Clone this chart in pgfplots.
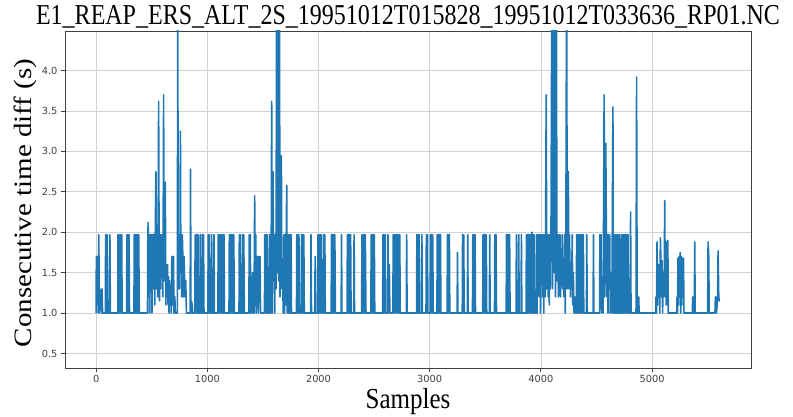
\documentclass[border=0pt]{standalone}
\usepackage{pgfplots}
\pgfplotsset{compat=1.18}
\usepackage{fontspec}
\usepackage{graphicx}
\setmainfont{Liberation Serif}
\newfontfamily\tickfont{DejaVu Sans}
\definecolor{mplblue}{HTML}{1F77B4}
\begin{document}
\begin{tikzpicture}
\begin{axis}[
 at={(0,0)}, anchor=south west,
 scale only axis, width=686pt, height=337pt,
 xmin=-280, xmax=5890, ymin=0.32, ymax=4.49,
 xtick={0,1000,2000,3000,4000,5000}, ytick={0.5,1,1.5,2,2.5,3,3.5,4},
 grid=major, grid style={gray!35, line width=0.7pt},
 axis line style={black!75, line width=0.9pt},
 tick align=outside, major tick length=4pt, tick style={black!75, line width=0.8pt},
 xtick pos=bottom, ytick pos=left,
 /pgf/number format/assume math mode=true,
 ticklabel style={font=\tickfont\fontsize{9.8}{11}\selectfont, text=black!75},
 xticklabel style={/pgf/number format/set thousands separator={}},
 yticklabel style={/pgf/number format/.cd, fixed, fixed zerofill, precision=1},
]
\addplot[mplblue, line width=1.6pt, line join=round] coordinates {
(0,1)(2,1.7)(8,1.45)(13,1.7)(18,1)(24,1.97)(29,1)(34,1.3)(39,1.05)(44,1.25)(49,1)(53,1.3)(58,1)
(84,1)(85,1.97)(89,1)(99,1)(100,1.97)(104,1)(120,1)(124,1.97)(128,1)
(195,1)(197,1.97)(203,1)(208,1.97)(214,1)(219,1.97)(225,1)(230,1.97)(234,1)
(274,1)(277,1.97)(282,1)(287,1.97)(292,1)(296,1.97)(300,1)
(340,1)(343,1.97)(348,1)(353,1.97)(358,1)(363,1.97)(368,1)(373,1.97)(378,1)(383,1.97)(388,1)
(462,1)(465,1.97)(468,2.12)(472,1.2)(477,1.97)(482,1)(487,1.97)(492,1.5)(497,1.97)(502,1)(507,1.97)(512,1.3)(517,1.97)(522,1.97)(527,1.1)(532,1.97)(538,2.75)(543,1.3)(548,1.97)(553,1.2)(558,1.97)(562,3.62)(566,1.97)(570,1.15)(575,1.97)(580,1.3)(584,1.97)(589,1.5)(594,1.97)(599,1.2)(603,1.97)(607,3.70)(611,1.4)(616,1.97)(622,2.62)(627,1.1)(632,1.6)(637,1.2)(642,1.6)(647,1.1)(651,1.45)(656,1)(661,1.4)(666,1.1)(671,1.2)(676,1)(681,1.7)(686,1.1)(691,1.7)(696,1.7)(700,1)
(704,1)(708,1.2)(712,1)(731,1)(734,5.5)(738,1.3)(744,1.97)(750,1.3)(755,1.97)(758,3.25)(762,1.5)(766,1.97)(770,1.2)(775,1.97)(780,1.7)(785,1.2)(790,1.7)(796,1.4)(801,1.2)(806,1.4)(812,1)
(846,1)(849,2.78)(853,1)(861,1.14)(866,1)(887,1)(891,1.97)(895,1)(899,1.75)(904,1.97)(909,1)(914,1)(918,1.97)(922,1)(935,1)(939,1.97)(943,1)(955,1)(958,1.97)(963,1)(966,1.97)(970,1)
(1005,1)(1008,1.97)(1013,1)(1018,1.97)(1023,1)(1036,1)(1039,1.97)(1044,1)(1056,1)(1060,1.97)(1064,1)
(1095,1)(1098,1.97)(1103,1)(1108,1.97)(1113,1)(1117,1.97)(1122,1)(1128,1)(1131,1.97)(1136,1)(1141,1.97)(1146,1)(1150,1.97)(1154,1)
(1195,1)(1198,1.97)(1203,1)(1208,1.97)(1213,1)(1218,1.97)(1223,1)(1228,1.97)(1233,1)(1238,1.97)(1243,1)
(1285,1)(1288,1.97)(1293,1)(1297,1.97)(1301,1)(1315,1)(1318,1.97)(1323,1)(1328,1.97)(1333,1)
(1374,1)(1377,1.97)(1382,1)(1386,1.97)(1391,1)(1396,1.3)(1401,1)(1404,1.35)(1408,1.5)(1412,1)(1420,1)(1426,2.45)(1430,1.1)(1436,1.97)(1440,1)(1444,1.7)(1449,1.1)(1454,1.7)(1459,1)(1464,1.7)(1469,1.2)(1474,1.7)(1479,1)
(1514,1)(1517,1.97)(1522,1)(1527,1.97)(1532,1)(1537,1.97)(1541,1)(1555,1)(1558,1.97)(1562,1)(1568,1.97)(1573,1)(1579,3.62)(1584,1)(1591,2.75)(1596,1.4)(1601,1.97)(1606,1)(1612,1.97)(1618,1.3)(1624,5.5)(1630,1.5)(1636,5.5)(1642,1.4)(1648,5.5)(1654,1.2)(1660,1.97)(1666,2.95)(1671,1.3)(1678,1.4)(1683,1)(1690,1.97)(1695,1)(1700,1.97)(1705,1.1)(1714,2.58)(1719,1)(1724,1.97)(1728,1)(1734,1.97)(1739,1)(1744,1.97)(1749,1)(1753,1.97)(1757,1)
(1802,1)(1805,1.97)(1810,1)(1815,1.97)(1820,1)(1824,1.97)(1828,1)(1845,1)(1848,1.97)(1853,1)(1858,1.97)(1863,1)(1868,1.97)(1872,1)
(1930,1)(1933,1.97)(1937,1)(1966,1)(1970,1.7)(1974,1)
(1992,1)(1995,1.97)(2000,1)(2005,1.97)(2010,1)(2015,1.97)(2020,1)(2025,1.97)(2030,1)(2037,1.2)(2042,1)(2047,1.97)(2052,1)(2057,1.97)(2061,1)
(2114,1)(2117,1.97)(2122,1)(2127,1.97)(2132,1)(2137,1.97)(2142,1)(2147,1.97)(2152,1)
(2204,1)(2207,1.97)(2211,1)
(2257,1)(2260,1.97)(2265,1)(2270,1.97)(2275,1)(2280,1.97)(2285,1)(2289,1.97)(2293,1)
(2317,1)(2320,1.97)(2324,1)
(2388,1)(2391,1.97)(2396,1)(2401,1.97)(2406,1)(2411,1.97)(2416,1)(2421,1.97)(2427,1)
(2471,1)(2474,1.97)(2479,1)(2484,1.97)(2489,1)(2494,1.97)(2499,1)(2502,1.97)(2506,1)
(2577,1)(2580,1.97)(2585,1)(2590,1.97)(2595,1)(2600,1.97)(2604,1)
(2622,1)(2625,1.97)(2630,1)(2637,1.6)(2642,1)
(2669,1)(2672,1.97)(2677,1)(2682,1.97)(2687,1)(2692,1.97)(2697,1)(2702,1.97)(2707,1)(2712,1.97)(2717,1)(2722,1.97)(2727,1)(2731,1.97)(2735,1)
(2790,1)(2793,1.97)(2797,1)
(2882,1)(2885,1.97)(2890,1)(2895,1.97)(2900,1)(2905,1.97)(2910,1)
(2927,1)(2930,1.97)(2934,1)
(2967,1)(2970,1.97)(2975,1)(2980,1.97)(2984,1)
(3004,1)(3007,1.97)(3012,1)(3017,1.97)(3022,1)(3027,1.97)(3032,1)
(3065,1)(3068,1.97)(3073,1)(3078,1.97)(3083,1)(3088,1.97)(3093,1)(3097,1.97)(3101,1)
(3157,1)(3160,1.97)(3165,1)(3170,1.97)(3175,1)(3177,1.97)(3181,1)
(3247,1)(3250,1.75)(3254,1)
(3293,1)(3296,1.97)(3301,1)(3306,1.97)(3311,1)
(3339,1)(3342,1.97)(3346,1)
(3385,1)(3388,1.97)(3393,1)(3398,1.97)(3403,1)(3408,1.97)(3412,1)
(3477,1)(3480,1.97)(3485,1)(3490,1.97)(3495,1)(3500,1.97)(3505,1)(3509,1.97)(3513,1)
(3537,1)(3540,1.97)(3544,1)
(3583,1)(3586,1.97)(3591,1)(3596,1.97)(3601,1)
(3688,1)(3691,1.97)(3696,1)(3701,1.97)(3706,1)(3711,1.97)(3715,1)(3719,1.97)(3723,1)
(3777,1)(3780,1.97)(3784,1)(3798,1)(3801,1.97)(3805,1)(3822,1)(3825,1.97)(3829,1)
(3867,1)(3870,1.97)(3875,1)(3880,1.97)(3885,1)(3890,1.97)(3895,1)(3900,1.97)(3905,1)(3910,1.97)(3915,1)(3920,2.0)(3925,1)(3930,1.97)(3935,1)(3939,1.97)(3943,1)
(3958,1)(3961,1.97)(3966,1)(3971,1.97)(3976,1.6)(3981,1.97)(3986,1.2)(3991,1.97)(3996,1)(4001,1.97)(4006,1.5)(4011,1.97)(4016,1.2)(4021,1.97)(4026,1)(4030,1.5)(4035,1.97)(4040,1.2)(4048,3.70)(4053,1.3)(4058,1.97)(4066,1.2)(4071,1.97)(4076,1.1)(4081,1.97)(4086,1.3)(4091,1.97)(4100,5.5)(4106,1.3)(4113,5.5)(4119,1.5)(4126,5.5)(4132,1.2)(4139,5.5)(4145,1.4)(4152,1.97)(4158,1.2)(4166,1.97)(4172,1.97)(4177,1.2)(4182,1.66)(4187,1.4)(4192,1.97)(4197,1.3)(4203,1.4)(4208,1.2)(4214,1.97)(4219,1)(4225,1.97)(4232,5.5)(4237,1.3)(4242,1.5)(4247,2.75)(4252,1.3)(4257,1.97)(4262,1.6)(4267,1.2)(4272,1.6)(4277,1.3)(4282,1.97)(4287,1.1)(4292,1.5)(4297,1)(4307,1.2)(4312,1)
(4318,1)(4322,1.97)(4327,1)(4332,1.97)(4337,1)(4342,1.97)(4347,1)(4352,1.97)(4357,1)(4362,1.97)(4367,1)(4372,1.97)(4377,1)(4382,1.97)(4386,1)
(4410,1)(4413,1.97)(4417,1)(4470,1)(4473,1.97)(4477,1)
(4528,1)(4531,1.97)(4536,1.2)(4541,1.97)(4546,1)(4552,1.2)(4560,1)(4569,3.70)(4574,1.2)(4579,1.97)(4584,3.1)(4589,1.97)(4594,1.2)(4599,1.97)(4604,1)(4609,1.97)(4614,1.3)(4619,1.97)(4624,1)(4634,1.5)(4639,1)(4648,3.55)(4652,1)(4663,1)(4666,1.97)(4671,1)(4676,1.97)(4681,1)(4686,1.97)(4690,1)(4698,1)(4701,1.97)(4706,1)(4711,1.97)(4716,1)(4726,1)(4729,1.97)(4734,1)(4739,1.97)(4744,1)(4749,1.97)(4754,1)(4759,1.97)(4764,1)(4769,1.97)(4774,1)(4779,1.97)(4784,1.97)(4788,1)(4803,1)(4807,2.25)(4811,1)(4856,1)(4861,3.92)(4866,1)(4876,1)(4880,1.2)(4884,1)
(5032,1)(5036,1.2)(5040,1)(5045,1.88)(5050,1.1)(5055,1.6)(5060,1.2)(5065,1.6)(5070,1)(5075,1.93)(5080,1.65)(5084,1.2)(5090,1.65)(5095,1)(5100,1.5)(5105,1.2)(5110,1.5)(5114,2.39)(5119,1.2)(5124,1.6)(5128,1.1)(5132,1.88)(5137,1.2)(5142,1.9)(5146,1)
(5222,1)(5225,1.2)(5229,1)(5233,1.68)(5238,1.1)(5243,1.7)(5248,1.2)(5253,1.75)(5258,1)(5263,1.7)(5268,1.1)(5273,1.68)(5278,1.2)(5283,1.68)(5287,1)
(5362,1)(5366,1.2)(5370,1)(5380,1)(5384,1.88)(5388,1)
(5500,1)(5504,1.88)(5510,1.7)(5514,1)
(5566,1)(5570,1.2)(5575,1.2)(5580,1)(5590,1.2)(5594,1.77)(5600,1.2)(5605,1.15)(5610,1.15)
};
\end{axis}
\node[anchor=base] at (343pt,343pt) {\scalebox{1}[1.2]{\fontsize{24}{28}\selectfont E1\_REAP\_ERS\_ALT\_2S\_19951012T015828\_19951012T033636\_RP01.NC}};
\node[anchor=base] at (343pt,-41pt) {\scalebox{1}[1.16]{\fontsize{25}{30}\selectfont Samples}};
\node[anchor=base, rotate=90] at (-33pt,165pt) {\scalebox{1.16}[1]{\fontsize{25}{30}\selectfont Consecutive time diff (s)}};
\pgfresetboundingbox
\path[use as bounding box] (-65pt,-49pt) rectangle (728pt,368pt);
\end{tikzpicture}
\end{document}
